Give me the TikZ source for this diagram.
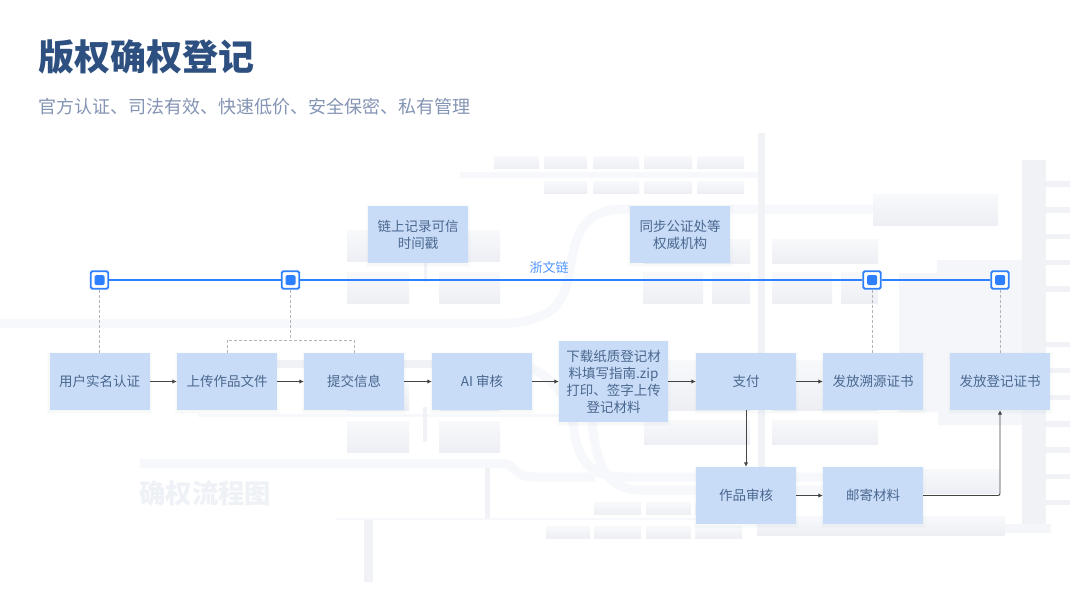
\documentclass[tikz,border=0pt]{standalone}
\usepackage{fontspec}
\setmainfont{Noto Sans CJK SC}
\usetikzlibrary{arrows.meta,calc}
\definecolor{nodeblue}{HTML}{C9DCF7}
\definecolor{nodetext}{HTML}{4A678F}
\definecolor{titleblue}{HTML}{2E5080}
\definecolor{subgrey}{HTML}{8494B4}
\definecolor{chainblue}{HTML}{2F80FF}
\definecolor{arrowgrey}{HTML}{444444}
\definecolor{roadc}{HTML}{F7F8FB}
\definecolor{bldtop}{HTML}{F8F9FB}
\definecolor{bldbot}{HTML}{EDEFF4}
\definecolor{towerc}{HTML}{F0F2F6}
\definecolor{dashc}{HTML}{B4B4B4}
\definecolor{markc}{HTML}{EEF1F6}
\tikzset{
  x=1pt,y=-1pt,
  bld/.style={top color=bldtop,bottom color=bldbot,draw=none},
  road/.style={draw=roadc,line width=9pt},
  tower/.style={fill=towerc,draw=none},
  softedge/.style={preaction={draw=nodetext,draw opacity=.018,line width=#1,fill opacity=0,transform canvas={yshift=-1.5pt}}},
  box/.style={fill=nodeblue,draw=none,inner sep=0pt,align=center,text=nodetext,
    font=\fontsize{13.5}{17}\selectfont,minimum width=100pt,minimum height=57pt,
    softedge=5pt,softedge=2.5pt},
  flow/.style={draw=arrowgrey,line width=.9pt,-{Latex[length=4.5pt,width=4.5pt]}},
  chainsq/.style={draw=chainblue,line width=1.8pt,fill=white,rounded corners=1.5pt,minimum size=17.5pt,inner sep=0pt,
    path picture={\fill[chainblue] ($(path picture bounding box.center)+(-5,-5)$) rectangle ($(path picture bounding box.center)+(5,5)$);}},
  chainline/.style={draw=chainblue,line width=1.6pt},
  dashlink/.style={draw=dashc,line width=.7pt,dash pattern=on 3pt off 2pt},
}
\begin{document}
\begin{tikzpicture}
\useasboundingbox (0,0) rectangle (1080,608);
\fill[white] (0,0) rectangle (1080,608);
% background map: roads
\draw[road] (0,323.5) -- (496,323.5) .. controls (550,323.5) and (562,305) .. (568,280) .. controls (575,240) and (578,209) .. (625,209) -- (873,209);
\draw[draw=towerc,line width=8pt] (198,364) -- (520,364);
\draw[road] (520,364) .. controls (555,375) and (570,400) .. (574,430) .. controls (578,460) and (590,477) .. (625,477) -- (830,477);
\draw[road] (592,420) .. controls (595,460) and (605,490) .. (640,490) -- (830,490);
\draw[road] (139.5,463.5) -- (505,463.5) .. controls (515,466) and (515,477) .. (535,477) -- (595,477);
\fill[roadc] (460,172) rectangle (758,178);
\fill[roadc] (198,414) rectangle (559,417);
\fill[roadc] (336,518) rectangle (696,520);
\fill[towerc] (485,468) rectangle (490,518);
\fill[towerc] (364,520) rectangle (373,582);
\fill[towerc] (424,263) rectangle (427,282);
\fill[towerc] (423,407) rectangle (427,442);
% buildings
\foreach \a/\b in {494/539,544/587,593/639,644/692,697/744} \shade[bld] (\a,156) rectangle (\b,168);
\foreach \a/\b in {544/587,593/639,644/692,697/744} \shade[bld] (\a,181) rectangle (\b,193);
\foreach \a/\b in {347/409,439/500} {
  \shade[bld] (\a,230) rectangle (\b,261);
  \shade[bld] (\a,272) rectangle (\b,303);
  \shade[bld] (\a,383) rectangle (\b,410);
  \shade[bld] (\a,421) rectangle (\b,452);
}
\shade[bld] (873,194) rectangle (998,225);
\foreach \a/\b in {644/750,772/878} {
  \shade[bld] (\a,239) rectangle (\b,263);
  \shade[bld] (\a,360) rectangle (\b,410);
  \shade[bld] (\a,420) rectangle (\b,444);
}
\foreach \a/\b in {643/703,712/750,772/832,841/878} \shade[bld] (\a,272) rectangle (\b,303);
\foreach \a/\b in {594/641,646/691,695/740} \shade[bld] (\a,502) rectangle (\b,514);
\foreach \a/\b in {546/590,594/641,646/691,695/742} \shade[bld] (\a,526) rectangle (\b,538);
\shade[bld] (900,469) rectangle (1000,493);
\fill[towerc!70!white] (937,260) -- (1022,260) -- (1022,425) -- (938,425) -- (938,412) -- (899,412) -- (899,273) -- (937,273) -- cycle;
\fill[towerc] (758,133) rectangle (765,522);
\shade[bld] (757,516) rectangle (1005,535);
\fill[towerc!70!white] (1005,524) rectangle (1051,533);
\fill[towerc] (1022,160) rectangle (1046,524);
\foreach \a/\b in {181/187,207/213,234/239,260/265,286/292,342/347,368/373,395/400,421/427,447/453,474/479,500/505}
  \fill[towerc] (1046,\a) rectangle (1070,\b);
% texts
\node[anchor=west,inner sep=0pt,text=titleblue,font=\fontsize{36}{40}\selectfont\bfseries] (title) at (38,57) {版权确权登记};
\node[anchor=west,inner sep=0pt,text=subgrey,font=\fontsize{18}{22}\selectfont] (subtitle) at (38,107) {官方认证、司法有效、快速低价、安全保密、私有管理};
\node[anchor=west,inner sep=0pt,text=markc,font=\fontsize{26.4}{30}\selectfont\bfseries] (mark) at (139,493.5) {确权流程图};
% flow nodes
\node[box] (n1) at (99.5,381.5) {用户实名认证};
\node[box] (n2) at (227,381.5) {上传作品文件};
\node[box] (n3) at (354,381.5) {提交信息};
\node[box] (n4) at (482,381.5) {AI 审核};
\node[box,minimum width=109pt,minimum height=81pt] (n5) at (613.5,381.5) {下载纸质登记材\\料填写指南.zip\\打印、签字上传\\登记材料};
\node[box] (n6) at (746,381.5) {支付};
\node[box] (n7) at (873,381.5) {发放溯源证书};
\node[box] (n8) at (1000,381.5) {发放登记证书};
\node[box] (n9) at (746,495.5) {作品审核};
\node[box] (n10) at (873,495.5) {邮寄材料};
\node[box] (t1) at (418,234.5) {链上记录可信\\时间戳};
\node[box] (t2) at (680,234.5) {同步公证处等\\权威机构};
% chain squares
\node[chainsq] (s1) at (99.5,280) {};
\node[chainsq] (s2) at (290.5,280) {};
\node[chainsq] (s3) at (872,280) {};
\node[chainsq] (s4) at (1000,280) {};
\draw[chainline] (s1) -- (s2);
\draw[chainline] (s2) -- (s3);
\draw[chainline] (s3) -- (s4);
\node[inner sep=0pt,text=chainblue!85!white,font=\fontsize{13}{16}\selectfont] (chainlabel) at (549,268) {浙文链};
% dashed links
\coordinate (fork) at (290.5,340);
\draw[dashlink] (s1.south) -- (n1.north);
\draw[dashlink] (s2.south) -- (fork);
\draw[dashlink] (n2.north) |- (fork);
\draw[dashlink] (n3.north) |- (fork);
\draw[dashlink] (s3.south) -- (n7.north -| s3.south);
\draw[dashlink] (s4.south) -- (n8.north);
% arrows
\draw[flow] (n1) -- (n2);
\draw[flow] (n2) -- (n3);
\draw[flow] (n3) -- (n4);
\draw[flow] (n4) -- (n5);
\draw[flow] (n5) -- (n6);
\draw[flow] (n6) -- (n7);
\draw[flow] (n6) -- (n9);
\draw[flow] (n9) -- (n10);
\draw[flow,rounded corners=2pt] (n10) -| (n8);
\end{tikzpicture}
\end{document}
